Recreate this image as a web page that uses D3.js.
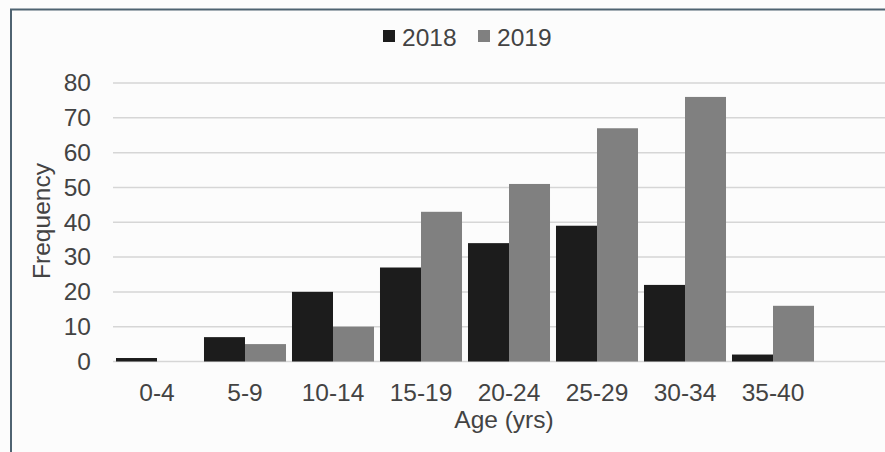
<!DOCTYPE html>
<html>
<head>
<meta charset="utf-8">
<script src="https://cdn.jsdelivr.net/npm/d3@7"></script>
<style>
  html, body { margin: 0; padding: 0; background: #fcfcfc; }
  svg { display: block; }
  text { font-family: "Liberation Sans", Arial, sans-serif; fill: #434343; }
</style>
</head>
<body>
<svg id="chart" width="885" height="452"></svg>
<script>
// Age groups and counts per year
const categories = ["0-4", "5-9", "10-14", "15-19", "20-24", "25-29", "30-34", "35-40"];
const years = ["2018", "2019"];
const values2018 = [1, 7, 20, 27, 34, 39, 22, 2];
const values2019 = [0, 5, 10, 43, 51, 67, 76, 16];
const yTicks = [0, 10, 20, 30, 40, 50, 60, 70, 80];
const colors = ["#1c1c1c", "#808080"];

const series = [values2018, values2019];
const table = categories.map((c, i) => ({ cat: c, vals: years.map((y, j) => ({ year: y, v: series[j][i], j })) }));

const W = 885, H = 452;
const FS = 24.5;
const svg = d3.select("#chart");

svg.append("rect").attr("width", W).attr("height", H).attr("fill", "#fcfcfc");

// Frame (continues past the right and bottom edges)
svg.append("rect")
  .attr("x", 11).attr("y", 9.5)
  .attr("width", W + 20).attr("height", H + 20)
  .attr("fill", "none").attr("stroke", "#4f6371").attr("stroke-width", 2);

const x = d3.scaleBand().domain(categories).range([113, 817]).paddingInner(0.068).paddingOuter(0.034);
const xs = d3.scaleBand().domain(years).range([0, x.bandwidth()]);
const y = d3.scaleLinear().domain([0, 80]).range([361.5, 83]);

// Gridlines
svg.append("g")
  .selectAll("line").data(yTicks).join("line")
  .attr("x1", 113).attr("x2", W)
  .attr("y1", d => y(d)).attr("y2", d => y(d))
  .attr("stroke", "#d6d6d6").attr("stroke-width", 1.5);

// Y axis labels
const yAxis = d3.axisLeft(y).tickValues(yTicks).tickSize(0).tickPadding(0);
const gy = svg.append("g").attr("transform", "translate(91,0)").call(yAxis);
gy.select(".domain").remove();
gy.selectAll("text").attr("font-size", FS).style("font-family", "Liberation Sans, Arial, sans-serif").attr("fill", "#434343");

// Bars
svg.append("g")
  .selectAll("g").data(table).join("g")
  .attr("transform", d => `translate(${x(d.cat)},0)`)
  .selectAll("rect").data(d => d.vals).join("rect")
  .attr("x", d => xs(d.year))
  .attr("width", xs.bandwidth())
  .attr("y", d => y(d.v))
  .attr("height", d => y(0) - y(d.v))
  .attr("fill", d => colors[d.j]);

// X axis labels
const xAxis = d3.axisBottom(x).tickSize(0).tickPadding(0);
const gx = svg.append("g").attr("transform", "translate(0,383)").call(xAxis);
gx.select(".domain").remove();
gx.selectAll("text").attr("font-size", FS).attr("dy", "0.72em").style("font-family", "Liberation Sans, Arial, sans-serif").attr("fill", "#434343");

// Axis titles
svg.append("text").attr("x", 504).attr("y", 428).attr("text-anchor", "middle")
  .attr("font-size", FS).text("Age (yrs)");
svg.append("text").attr("transform", "translate(49.5,221) rotate(-90)").attr("text-anchor", "middle")
  .attr("font-size", FS).text("Frequency");

// Legend
const legend = svg.append("g").selectAll("g").data(years).join("g")
  .attr("transform", (d, i) => `translate(${383 + i * 95},0)`);
legend.append("rect").attr("x", 0).attr("y", 30).attr("width", 12).attr("height", 12)
  .attr("fill", (d, i) => colors[i]);
legend.append("text").attr("x", 19).attr("y", 45.5).attr("font-size", FS).text(d => d);
</script>
</body>
</html>
